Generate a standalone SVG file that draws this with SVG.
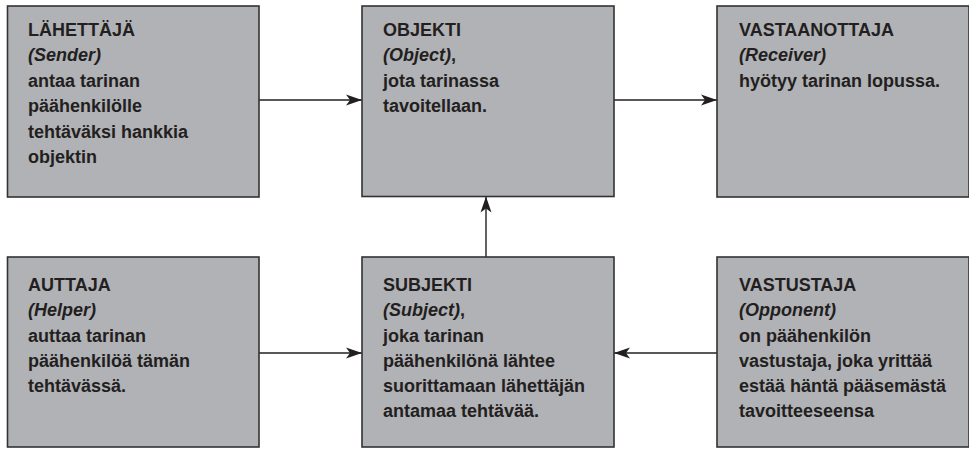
<svg xmlns="http://www.w3.org/2000/svg" width="969" height="449" viewBox="0 0 969 449">
  <style>
    .box { fill: #b1b2b6; stroke: #333233; stroke-width: 1.6; }
    .t { font-family: "Liberation Sans", Arial, sans-serif; font-size: 18px; font-weight: bold; fill: #231f20; }
    .i { font-style: italic; }
    .conn { stroke: #231f20; stroke-width: 1.4; fill: none; marker-end: url(#arrow); }
  </style>
  <defs>
    <marker id="arrow" markerUnits="userSpaceOnUse" markerWidth="17" markerHeight="12" refX="16" refY="6" orient="auto">
      <path d="M0,0.5 L16,6 L0,11.5 L4,6 Z" fill="#231f20"/>
    </marker>
  </defs>
  <rect width="969" height="449" fill="#ffffff"/>

  <g id="connectors">
    <line class="conn" x1="259" y1="100" x2="362" y2="100"/>
    <line class="conn" x1="614" y1="100" x2="717" y2="100"/>
    <line class="conn" x1="486" y1="257" x2="486" y2="196.5"/>
    <line class="conn" x1="259" y1="353" x2="362" y2="353"/>
    <line class="conn" x1="717" y1="353" x2="614" y2="353"/>
  </g>

  <g id="sender">
    <rect class="box" x="7.5" y="6" width="251.5" height="191"/>
    <text class="t" x="28" y="36">LÄHETTÄJÄ</text>
    <text class="t i" x="28" y="61.4">(Sender)</text>
    <text class="t" x="28" y="86.8">antaa tarinan</text>
    <text class="t" x="28" y="112.2">päähenkilölle</text>
    <text class="t" x="28" y="137.6">tehtäväksi hankkia</text>
    <text class="t" x="28" y="163">objektin</text>
  </g>

  <g id="object">
    <rect class="box" x="362" y="6" width="252" height="190.5"/>
    <text class="t" x="383" y="36">OBJEKTI</text>
    <text class="t" x="383" y="61.4"><tspan class="i">(Object)</tspan>,</text>
    <text class="t" x="383" y="86.8">jota tarinassa</text>
    <text class="t" x="383" y="112.2">tavoitellaan.</text>
  </g>

  <g id="receiver">
    <rect class="box" x="717" y="6" width="252" height="191"/>
    <text class="t" x="739" y="36">VASTAANOTTAJA</text>
    <text class="t i" x="739" y="61.4">(Receiver)</text>
    <text class="t" x="739" y="86.8">hyötyy tarinan lopussa.</text>
  </g>

  <g id="helper">
    <rect class="box" x="7.5" y="257" width="251.5" height="190"/>
    <text class="t" x="28" y="291">AUTTAJA</text>
    <text class="t i" x="28" y="316.2">(Helper)</text>
    <text class="t" x="28" y="341.5">auttaa tarinan</text>
    <text class="t" x="28" y="366.7">päähenkilöä tämän</text>
    <text class="t" x="28" y="392">tehtävässä.</text>
  </g>

  <g id="subject">
    <rect class="box" x="362" y="257" width="252" height="190"/>
    <text class="t" x="383" y="291">SUBJEKTI</text>
    <text class="t" x="383" y="316.2"><tspan class="i">(Subject)</tspan>,</text>
    <text class="t" x="383" y="341.5">joka tarinan</text>
    <text class="t" x="383" y="366.7">päähenkilönä lähtee</text>
    <text class="t" x="383" y="392">suorittamaan lähettäjän</text>
    <text class="t" x="383" y="417.2">antamaa tehtävää.</text>
  </g>

  <g id="opponent">
    <rect class="box" x="717" y="257" width="252" height="190"/>
    <text class="t" x="739" y="291">VASTUSTAJA</text>
    <text class="t i" x="739" y="316.2">(Opponent)</text>
    <text class="t" x="739" y="341.5">on päähenkilön</text>
    <text class="t" x="739" y="366.7">vastustaja, joka yrittää</text>
    <text class="t" x="739" y="392">estää häntä pääsemästä</text>
    <text class="t" x="739" y="417.2">tavoitteeseensa</text>
  </g>
</svg>
